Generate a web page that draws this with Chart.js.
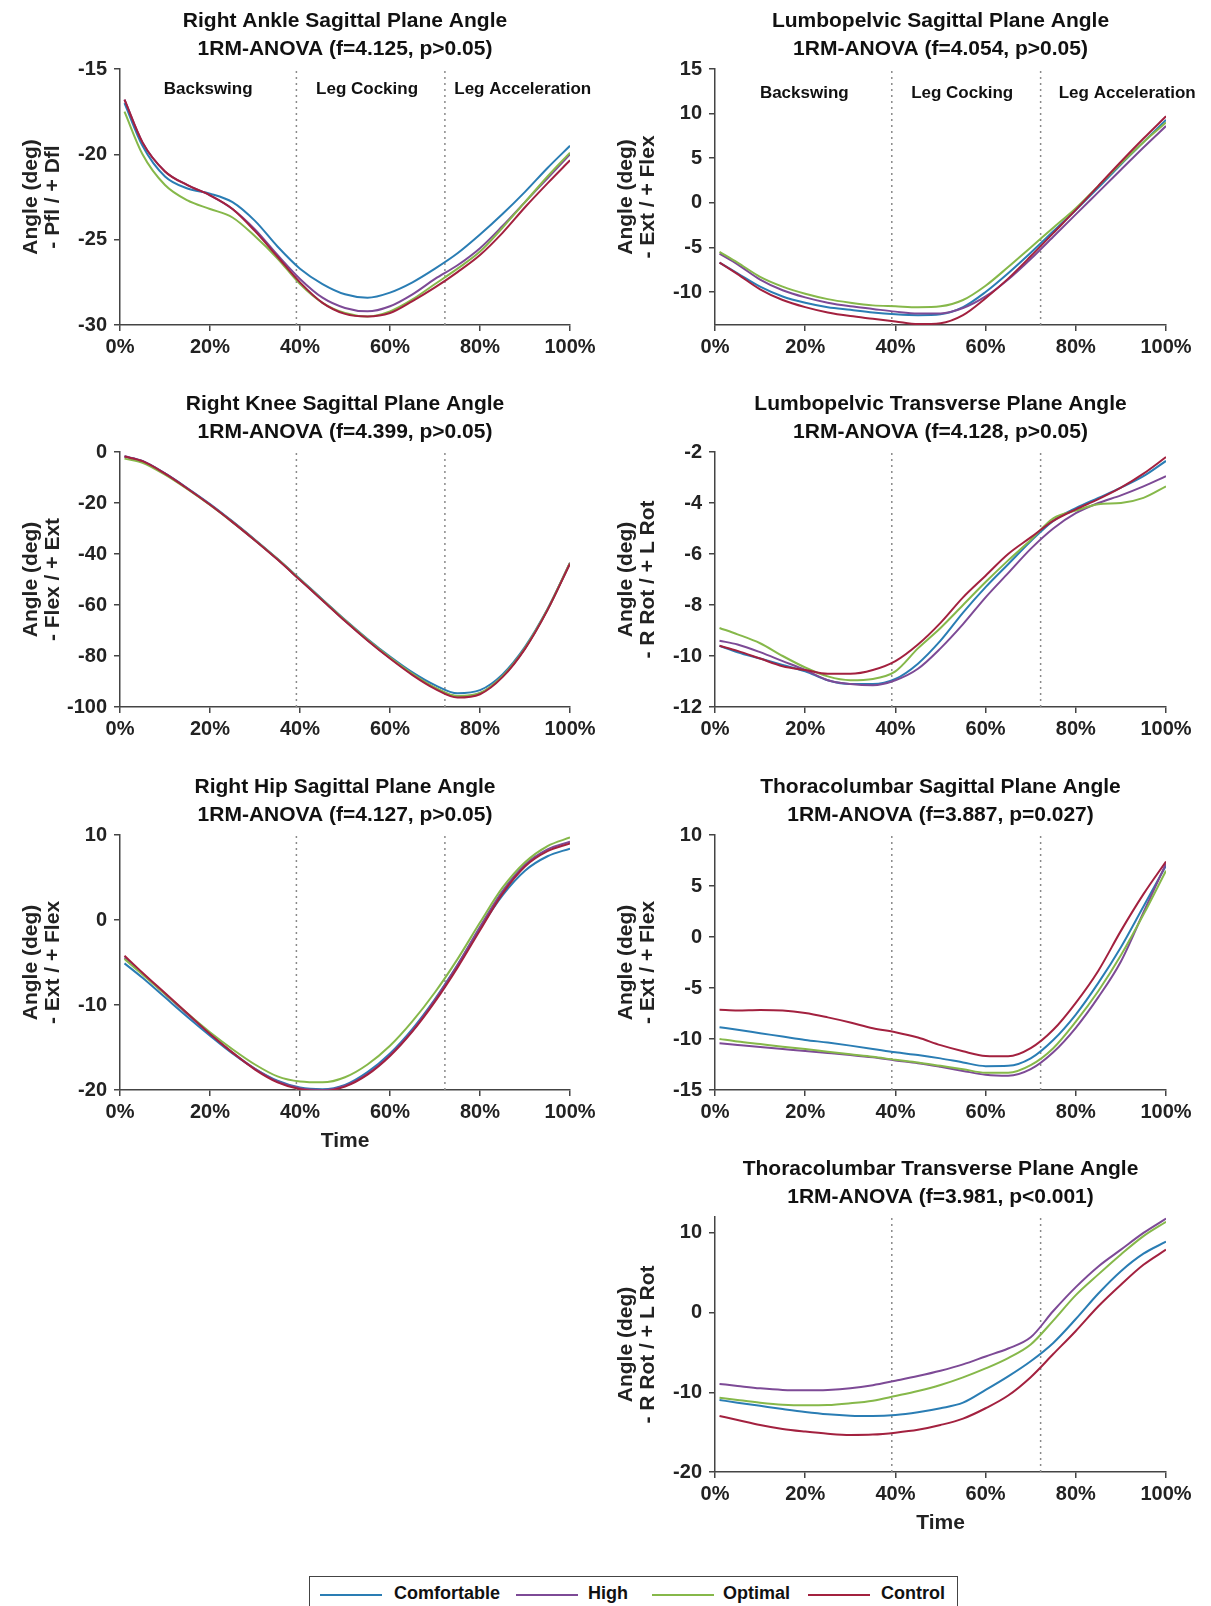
<!DOCTYPE html>
<html>
<head>
<meta charset="utf-8">
<script src="https://cdn.jsdelivr.net/npm/chart.js@4.4.1/dist/chart.umd.min.js"></script>
<style>
  body { margin: 0; background: #fff; overflow: hidden; }
  #page { position: relative; width: 1211px; height: 1606px; font-family: 'Liberation Sans', Arial, sans-serif; }
  canvas { position: absolute; }
  #legend { position: absolute; left: 309px; top: 1576px; width: 647px; height: 40px; border: 1.5px solid #444; }
  .lg-line { position: absolute; top: 17px; width: 62px; height: 2px; }
  .lg-text { position: absolute; top: 6px; font-weight: bold; font-size: 18px; color: #111; }
</style>
</head>
<body>
<div id="page">
  <canvas id="ankle" width="600" height="359" style="left:0;top:6px"></canvas>
  <canvas id="lpSag" width="616" height="359" style="left:595px;top:6px"></canvas>
  <canvas id="knee" width="600" height="358" style="left:0;top:389px"></canvas>
  <canvas id="lpTrans" width="616" height="358" style="left:595px;top:389px"></canvas>
  <canvas id="hip" width="600" height="382" style="left:0;top:772px"></canvas>
  <canvas id="tlSag" width="616" height="358" style="left:595px;top:772px"></canvas>
  <canvas id="tlTrans" width="616" height="382" style="left:595px;top:1154px"></canvas>
  <div id="legend">
    <div class="lg-line" style="left:10px;background:#2a7db4"></div><div class="lg-text" style="left:84px">Comfortable</div>
    <div class="lg-line" style="left:206px;background:#7d4a96"></div><div class="lg-text" style="left:278px">High</div>
    <div class="lg-line" style="left:342px;background:#86b84a"></div><div class="lg-text" style="left:413px">Optimal</div>
    <div class="lg-line" style="left:498px;background:#a3213f"></div><div class="lg-text" style="left:571px">Control</div>
  </div>
</div>
<script>
// % of movement time
const pct = [1, 5, 10, 15, 20, 25, 30, 35, 40, 45, 50, 55, 60, 65, 70, 75, 80, 85, 90, 95, 100]
const phaseEdges = [39.2, 72.2]
const phaseNames = ['Backswing', 'Leg Cocking', 'Leg Acceleration']

// Right ankle sagittal
const ankleComf = [-17.0, -19.5, -21.3, -22.0, -22.3, -22.8, -23.9, -25.4, -26.7, -27.6, -28.2, -28.4, -28.1, -27.5, -26.7, -25.8, -24.7, -23.5, -22.2, -20.8, -19.5]
const ankleHigh = [-16.8, -19.3, -21.0, -21.8, -22.4, -23.2, -24.4, -25.9, -27.3, -28.4, -29.0, -29.2, -28.9, -28.2, -27.3, -26.5, -25.5, -24.2, -22.8, -21.4, -20.0]
const ankleOpt = [-17.5, -20.0, -21.8, -22.7, -23.2, -23.7, -24.8, -26.1, -27.6, -28.7, -29.3, -29.5, -29.2, -28.5, -27.6, -26.7, -25.7, -24.3, -22.8, -21.3, -19.9]
const ankleCtrl = [-16.8, -19.3, -21.0, -21.8, -22.4, -23.2, -24.5, -26.0, -27.5, -28.7, -29.35, -29.5, -29.3, -28.6, -27.8, -26.9, -25.9, -24.6, -23.1, -21.7, -20.35]

// Lumbopelvic sagittal
const lpSagComf = [-6.7, -7.9, -9.4, -10.5, -11.2, -11.7, -12.0, -12.3, -12.5, -12.6, -12.5, -11.7, -10.0, -7.9, -5.6, -3.2, -0.8, 1.7, 4.3, 6.8, 9.3]
const lpSagHigh = [-5.7, -6.9, -8.6, -9.8, -10.6, -11.2, -11.6, -11.9, -12.2, -12.4, -12.4, -11.8, -10.5, -8.6, -6.3, -3.8, -1.3, 1.2, 3.7, 6.2, 8.6]
const lpSagOpt = [-5.5, -6.7, -8.3, -9.4, -10.2, -10.8, -11.2, -11.5, -11.6, -11.7, -11.6, -10.9, -9.3, -7.2, -5.0, -2.8, -0.6, 1.9, 4.4, 6.8, 9.0]
const lpSagCtrl = [-6.7, -8.0, -9.7, -10.9, -11.7, -12.3, -12.7, -13.0, -13.3, -13.6, -13.5, -12.6, -10.7, -8.5, -6.0, -3.4, -0.8, 1.9, 4.6, 7.2, 9.7]

// Right knee sagittal
const kneeComf = [-1.8, -3.6, -8.4, -14.2, -20.4, -27.2, -34.4, -41.9, -49.8, -57.8, -65.8, -73.3, -80.2, -86.4, -91.4, -94.6, -93.4, -87.2, -76.4, -61.6, -43.6]
const kneeHigh = [-1.7, -3.5, -8.4, -14.3, -20.6, -27.4, -34.6, -42.1, -50.1, -58.1, -66.2, -73.8, -80.8, -87.2, -92.5, -95.9, -94.6, -88.0, -77.0, -61.8, -43.4]
const kneeOpt = [-2.6, -4.2, -8.9, -14.6, -20.8, -27.5, -34.6, -42.0, -50.0, -58.0, -66.0, -73.6, -80.6, -87.0, -92.4, -95.7, -94.5, -87.9, -76.9, -61.8, -43.5]
const kneeCtrl = [-1.8, -3.6, -8.5, -14.4, -20.7, -27.5, -34.7, -42.2, -50.2, -58.2, -66.3, -73.9, -81.0, -87.5, -92.9, -96.3, -95.0, -88.3, -77.2, -62.0, -43.8]

// Lumbopelvic transverse
const lpTrComf = [-9.6, -9.85, -10.1, -10.35, -10.6, -10.95, -11.1, -11.1, -10.9, -10.3, -9.4, -8.3, -7.3, -6.4, -5.5, -4.7, -4.2, -3.8, -3.4, -2.95, -2.35]
const lpTrHigh = [-9.4, -9.55, -9.85, -10.2, -10.55, -10.95, -11.1, -11.15, -10.95, -10.5, -9.7, -8.75, -7.7, -6.75, -5.8, -5.0, -4.4, -4.0, -3.7, -3.35, -2.95]
const lpTrOpt = [-8.9, -9.15, -9.5, -10.0, -10.45, -10.8, -10.95, -10.9, -10.6, -9.7, -8.9, -8.0, -7.1, -6.25, -5.45, -4.6, -4.3, -4.05, -4.0, -3.8, -3.35]
const lpTrCtrl = [-9.6, -9.8, -10.1, -10.4, -10.55, -10.7, -10.7, -10.55, -10.2, -9.55, -8.7, -7.7, -6.85, -6.0, -5.35, -4.7, -4.25, -3.85, -3.4, -2.85, -2.2]

// Right hip sagittal
const hipComf = [-5.1, -6.8, -9.1, -11.4, -13.6, -15.7, -17.5, -18.9, -19.7, -19.9, -19.4, -17.9, -15.7, -12.8, -9.3, -5.3, -1.0, 2.9, 5.8, 7.5, 8.4]
const hipHigh = [-4.4, -6.3, -8.7, -11.1, -13.4, -15.6, -17.5, -19.0, -19.8, -20.0, -19.5, -18.1, -15.9, -13.0, -9.4, -5.3, -0.8, 3.4, 6.5, 8.3, 9.2]
const hipOpt = [-4.6, -6.4, -8.7, -11.0, -13.2, -15.2, -17.0, -18.4, -19.0, -19.1, -18.5, -17.0, -14.8, -11.9, -8.5, -4.6, -0.3, 3.8, 6.8, 8.7, 9.7]
const hipCtrl = [-4.2, -6.2, -8.6, -11.0, -13.4, -15.6, -17.6, -19.1, -19.9, -20.1, -19.6, -18.2, -16.0, -13.1, -9.6, -5.6, -1.2, 3.1, 6.3, 8.1, 9.0]

// Thoracolumbar sagittal
const tlSagComf = [-8.84, -9.1, -9.43, -9.76, -10.09, -10.35, -10.65, -10.97, -11.3, -11.57, -11.9, -12.3, -12.66, -12.63, -11.9, -10.1, -7.6, -4.5, -1.0, 3.0, 7.0]
const tlSagHigh = [-10.42, -10.58, -10.78, -10.98, -11.18, -11.37, -11.57, -11.8, -12.1, -12.37, -12.73, -13.13, -13.5, -13.6, -12.96, -11.3, -8.9, -5.9, -2.4, 2.4, 7.2]
const tlSagOpt = [-9.99, -10.25, -10.5, -10.75, -10.98, -11.25, -11.5, -11.74, -12.04, -12.3, -12.63, -12.96, -13.3, -13.3, -12.56, -10.9, -8.3, -5.3, -1.8, 2.2, 6.5]
const tlSagCtrl = [-7.13, -7.2, -7.15, -7.2, -7.45, -7.88, -8.38, -8.94, -9.33, -9.86, -10.6, -11.2, -11.66, -11.7, -10.9, -9.1, -6.45, -3.3, 0.6, 4.2, 7.4]

// Thoracolumbar transverse
const tlTrComf = [-10.96, -11.3, -11.7, -12.1, -12.47, -12.76, -12.93, -12.97, -12.85, -12.5, -12.0, -11.3, -9.7, -8.0, -6.1, -3.8, -0.8, 2.4, 5.2, 7.4, 8.9]
const tlTrHigh = [-8.95, -9.2, -9.5, -9.7, -9.75, -9.7, -9.5, -9.1, -8.54, -7.96, -7.3, -6.5, -5.5, -4.5, -3.1, 0.2, 3.2, 5.8, 7.9, 10.0, 11.8]
const tlTrOpt = [-10.67, -10.96, -11.3, -11.55, -11.63, -11.6, -11.38, -11.05, -10.46, -9.84, -9.08, -8.12, -7.0, -5.7, -4.0, -1.0, 2.2, 4.8, 7.3, 9.6, 11.4]
const tlTrCtrl = [-12.97, -13.47, -14.1, -14.6, -14.93, -15.2, -15.35, -15.3, -15.06, -14.7, -14.1, -13.3, -12.0, -10.4, -8.1, -5.2, -2.3, 0.8, 3.5, 6.0, 7.9]

const groups = ['Comfortable', 'High', 'Optimal', 'Control']
const colors = ['#2a7db4', '#7d4a96', '#86b84a', '#a3213f']

Chart.defaults.font.family = "'Liberation Sans', Arial, sans-serif"
Chart.defaults.font.weight = 'bold'
Chart.defaults.color = '#222'

// two-line panel title + phase names, centred on the plot area
const panelText = {
  id: 'panelText',
  afterDraw(chart, args, opts) {
    const { ctx, chartArea } = chart
    const cx = (chartArea.left + chartArea.right) / 2
    ctx.save()
    ctx.fillStyle = '#111'
    ctx.textAlign = 'center'
    ctx.textBaseline = 'middle'
    ctx.font = "bold 21px 'Liberation Sans', Arial, sans-serif"
    ctx.fillText(opts.lines[0], cx, chartArea.top - 48)
    ctx.fillText(opts.lines[1], cx, chartArea.top - 20)
    if (opts.phaseX) {
      ctx.font = "bold 17px 'Liberation Sans', Arial, sans-serif"
      opts.phaseX.forEach((p, i) => {
        ctx.fillText(phaseNames[i], chart.scales.x.getPixelForValue(p), chartArea.top + opts.phaseDy)
      })
    }
    ctx.restore()
  }
}

function makePanel(id, cfg) {
  const datasets = cfg.series.map((arr, i) => ({
    label: groups[i],
    data: pct.map((x, j) => ({ x: x, y: arr[j] })),
    borderColor: colors[i],
    borderWidth: 2,
    pointRadius: 0,
    cubicInterpolationMode: 'monotone',
    order: 3 - i
  }))
  phaseEdges.forEach(p => {
    datasets.push({
      data: [{ x: p, y: cfg.min }, { x: p, y: cfg.max }],
      borderColor: '#8a8a8a',
      borderWidth: 1.5,
      borderDash: [2, 4],
      pointRadius: 0,
      order: 10
    })
  })
  const step = cfg.step
  new Chart(document.getElementById(id), {
    type: 'line',
    data: { datasets: datasets },
    options: {
      responsive: false,
      animation: false,
      layout: { padding: { top: 63, right: cfg.right, left: 0, bottom: 0 } },
      plugins: {
        legend: { display: false },
        tooltip: { enabled: false },
        panelText: { lines: cfg.title, phaseX: cfg.phaseX, phaseDy: cfg.phaseDy }
      },
      scales: {
        x: {
          type: 'linear',
          min: 0,
          max: 100,
          afterFit: s => { s.height = cfg.time ? 64 : 40 },
          border: { color: '#444', width: 1.5 },
          grid: { drawOnChartArea: false, color: '#444', lineWidth: 1.5, tickLength: 6 },
          ticks: { stepSize: 20, padding: 4, maxRotation: 0, color: '#222', font: { size: 20, weight: 'bold' }, callback: v => v + '%' },
          title: { display: !!cfg.time, text: 'Time', color: '#222', font: { size: 21, weight: 'bold' }, padding: 0 }
        },
        y: {
          min: cfg.min,
          max: cfg.max,
          afterFit: s => { s.width = 120 },
          afterBuildTicks: s => {
            s.ticks = s.ticks.filter(t => Math.abs(t.value / step - Math.round(t.value / step)) < 1e-6)
          },
          border: { color: '#444', width: 1.5 },
          grid: { drawOnChartArea: false, color: '#444', lineWidth: 1.5, tickLength: 6 },
          ticks: { stepSize: step, includeBounds: false, padding: 7, color: '#222', font: { size: 20, weight: 'bold' } },
          title: { display: true, text: ['Angle (deg)', cfg.yTitle], color: '#222', font: { size: 21, weight: 'bold', lineHeight: 1.05 }, padding: { top: 20 } }
        }
      }
    },
    plugins: [panelText]
  })
}

makePanel('ankle', {
  title: ['Right Ankle Sagittal Plane Angle', '1RM-ANOVA (f=4.125, p>0.05)'],
  yTitle: '- Pfl / + Dfl', series: [ankleComf, ankleHigh, ankleOpt, ankleCtrl],
  min: -30, max: -15, step: 5, right: 30, phaseX: [19.6, 54.9, 89.5], phaseDy: 20
})
makePanel('lpSag', {
  title: ['Lumbopelvic Sagittal Plane Angle', '1RM-ANOVA (f=4.054, p>0.05)'],
  yTitle: '- Ext / + Flex', series: [lpSagComf, lpSagHigh, lpSagOpt, lpSagCtrl],
  min: -13.7, max: 15, step: 5, right: 45, phaseX: [19.8, 54.8, 91.4], phaseDy: 24
})
makePanel('knee', {
  title: ['Right Knee Sagittal Plane Angle', '1RM-ANOVA (f=4.399, p>0.05)'],
  yTitle: '- Flex / + Ext', series: [kneeComf, kneeHigh, kneeOpt, kneeCtrl],
  min: -100, max: 0, step: 20, right: 30
})
makePanel('lpTrans', {
  title: ['Lumbopelvic Transverse Plane Angle', '1RM-ANOVA (f=4.128, p>0.05)'],
  yTitle: '- R Rot / + L Rot', series: [lpTrComf, lpTrHigh, lpTrOpt, lpTrCtrl],
  min: -12, max: -2, step: 2, right: 45
})
makePanel('hip', {
  title: ['Right Hip Sagittal Plane Angle', '1RM-ANOVA (f=4.127, p>0.05)'],
  yTitle: '- Ext / + Flex', series: [hipComf, hipHigh, hipOpt, hipCtrl],
  min: -20, max: 10, step: 10, right: 30, time: true
})
makePanel('tlSag', {
  title: ['Thoracolumbar Sagittal Plane Angle', '1RM-ANOVA (f=3.887, p=0.027)'],
  yTitle: '- Ext / + Flex', series: [tlSagComf, tlSagHigh, tlSagOpt, tlSagCtrl],
  min: -15, max: 10, step: 5, right: 45
})
makePanel('tlTrans', {
  title: ['Thoracolumbar Transverse Plane Angle', '1RM-ANOVA (f=3.981, p<0.001)'],
  yTitle: '- R Rot / + L Rot', series: [tlTrComf, tlTrHigh, tlTrOpt, tlTrCtrl],
  min: -20, max: 12, step: 10, right: 45, time: true
})
</script>
</body>
</html>
